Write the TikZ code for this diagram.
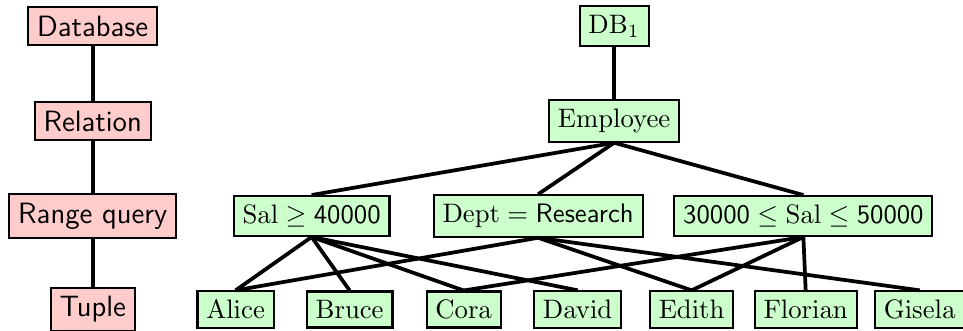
\documentclass[tikz,border=0pt]{standalone}
\usepackage{amssymb}
\usetikzlibrary{positioning}

\begin{document}
\begin{tikzpicture}[%
    level/.style={draw, line width=0.8pt, fill=red!20, inner sep=3.3pt,
                  font=\sffamily\fontsize{11}{13}\selectfont},
    item/.style={draw, line width=0.8pt, fill=green!20, inner sep=3.3pt},
    link/.style={line width=1.4pt}
  ]
  \useasboundingbox (0,0) rectangle (12.67,4.342);

  % levels of granularity
  \node[level] (DBase) at (1.22,4.0)  {Database};
  \node[level] (Rel)   at (1.22,2.75) {Relation};
  \node[level] (RQ)    at (1.22,1.5)  {Range query};
  \node[level] (Tup)   at (1.22,0.27) {Tuple};

  % example instance
  \node[item] (DB)    at (8.08,4.0)  {$\mathrm{DB}_1$};
  \node[item] (Emp)   at (8.08,2.75) {$\mathrm{Employee}$};
  \node[item] (QSal)  at (4.10,1.5)  {$\mathrm{Sal} \geq \textsf{40000}$};
  \node[item] (QDept) at (7.08,1.5)  {$\mathrm{Dept} = \textsf{Research}$};
  \node[item] (QRng)  at (10.57,1.5) {$\textsf{30000} \leq \mathrm{Sal} \leq \textsf{50000}$};

  \node[item] (Alice)   at (3.1,0.27)  {$\mathrm{Alice}$};
  \node[item] (Bruce)   at (4.6,0.27)  {$\mathrm{Bruce}$};
  \node[item] (Cora)    at (6.1,0.27)  {$\mathrm{Cora}$};
  \node[item] (David)   at (7.6,0.27)  {$\mathrm{David}$};
  \node[item] (Edith)   at (9.1,0.27)  {$\mathrm{Edith}$};
  \node[item] (Florian) at (10.6,0.27) {$\mathrm{Florian}$};
  \node[item] (Gisela)  at (12.1,0.27) {$\mathrm{Gisela}$};

  \path[link]
              (DBase.south) edge (Rel.north)
              (Rel.south)   edge (RQ.north)
              (RQ.south)    edge (Tup.north)
              (DB.south)    edge (Emp.north)
              (Emp.south)   edge (QSal.north)
              (Emp.south)   edge (QDept.north)
              (Emp.south)   edge (QRng.north)
              (QSal.south)  edge (Alice.north)
              (QSal.south)  edge (Bruce.north)
              (QSal.south)  edge (Cora.north)
              (QSal.south)  edge (David.north)
              (QDept.south) edge (Alice.north)
              (QDept.south) edge (Edith.north)
              (QDept.south) edge (Gisela.north)
              (QRng.south)  edge (Cora.north)
              (QRng.south)  edge (Edith.north)
              (QRng.south)  edge (Florian.north);
\end{tikzpicture}
\end{document}
